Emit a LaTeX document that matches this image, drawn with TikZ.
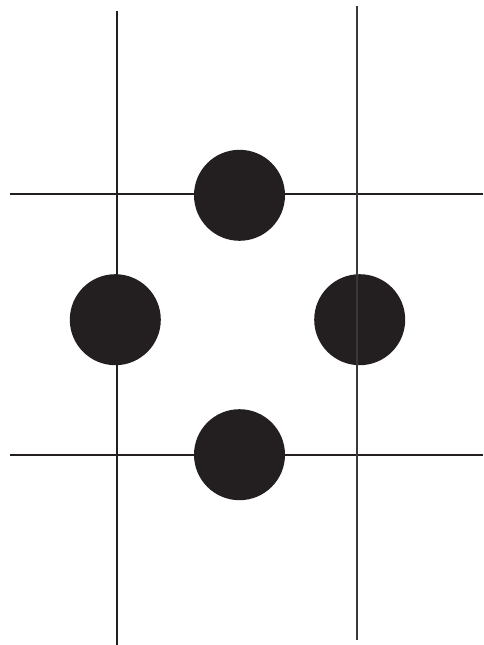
\documentclass[tikz,border=0pt]{standalone}
\definecolor{ink}{HTML}{231F20}
\definecolor{inkline}{HTML}{3A3839}
\begin{document}
\begin{tikzpicture}[x=1pt,y=-1pt,
  dot/.style={circle,fill=ink,draw=none,minimum size=91pt,inner sep=0pt},
  rule/.style={draw=ink,line width=1.6pt}]
\useasboundingbox (0,0) rectangle (483,645);
% lines
\coordinate (v1t) at (116.7,11);
\coordinate (v1b) at (116.7,645);
\coordinate (h1l) at (10,193.7);
\coordinate (h1r) at (483,193.7);
\coordinate (h2l) at (10,455);
\coordinate (h2r) at (483,455);
\draw[rule] (v1t) -- (v1b);
\draw[rule] (h1l) -- (h1r);
\draw[rule] (h2l) -- (h2r);
% dots
\node[dot] (top) at (239.5,195.3) {};
\node[dot] (left) at (115.3,319.7) {};
\node[dot] (right) at (359.7,319.7) {};
\node[dot] (bottom) at (239.5,454.7) {};
% right vertical drawn over the dot
\coordinate (v2t) at (356.7,6);
\coordinate (v2b) at (356.7,640);
\draw[draw=inkline,line width=1.6pt] (v2t) -- (v2b);
\end{tikzpicture}
\end{document}
